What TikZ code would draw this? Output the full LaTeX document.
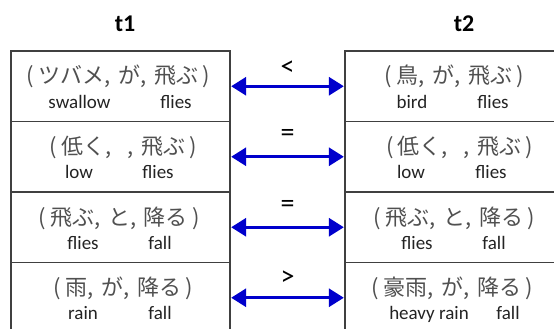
\documentclass[tikz,border=0pt]{standalone}
\usepackage{fontspec}
\setmainfont{Carlito}
\newfontfamily\jpfont{Noto Sans CJK JP}
\usetikzlibrary{arrows.meta}
\definecolor{arrblue}{RGB}{0,0,204}
\definecolor{boxline}{RGB}{64,64,64}
\definecolor{jpgray}{RGB}{80,80,80}
\definecolor{engray}{RGB}{35,35,35}
\newcommand{\jsp}{\hspace{0.35em}}
\newcommand{\psp}{\hspace{0.2em}}
\tikzset{
  cell/.style={draw=boxline, line width=1.3pt, minimum width=219pt, minimum height=70.5pt, inner sep=0pt},
  jp/.style={font=\jpfont\fontsize{22}{24}\selectfont, text=jpgray, anchor=base, inner sep=0pt},
  en/.style={font=\fontsize{19}{21}\selectfont, text=engray, anchor=base, inner sep=0pt},
  ttl/.style={font=\bfseries\fontsize{24}{26}\selectfont, text=black, anchor=base, inner sep=0pt},
  rel/.style={font=\fontsize{28}{30}\selectfont, text=black, inner sep=0pt},
  link/.style={draw=arrblue, line width=3pt, {Triangle[length=15pt,width=18pt]}-{Triangle[length=15pt,width=18pt]}, shorten <=0.5pt, shorten >=0.5pt}
}
\begin{document}
\begin{tikzpicture}[x=1pt,y=-1pt]
\useasboundingbox (0,0) rectangle (554,329);
\clip (0,0) rectangle (554,329);
\fill[white] (0,0) rectangle (554,329);
% titles
\node[ttl] (t1) at (125,32) {t1};
\node[ttl] (t2) at (464,32) {t2};
% cells
\node[cell] (L1) at (120.5,86.25) {};
\node[cell] (L2) at (120.5,156.75) {};
\node[cell] (L3) at (120.5,227.25) {};
\node[cell] (L4) at (120.5,297.75) {};
\node[cell] (R1) at (454.5,86.25) {};
\node[cell] (R2) at (454.5,156.75) {};
\node[cell] (R3) at (454.5,227.25) {};
\node[cell] (R4) at (454.5,297.75) {};
% left texts
\node[jp] (L1j) at (118.5,84) {(\psp ツバメ,\jsp が,\jsp 飛ぶ\psp )};
\node[en] (L1a) at (79.5,108) {swallow};
\node[en] (L1b) at (176,108) {flies};
\node[jp] (L2j) at (123.5,154.5) {(\psp 低く,\jsp\jsp ,\jsp 飛ぶ\psp )};
\node[en] (L2a) at (79,178.5) {low};
\node[en] (L2b) at (158,178.5) {flies};
\node[jp] (L3j) at (119,225) {(\psp 飛ぶ,\jsp と,\jsp 降る\psp )};
\node[en] (L3a) at (83,249) {flies};
\node[en] (L3b) at (160,249) {fall};
\node[jp] (L4j) at (123.5,295.5) {(\psp 雨,\jsp が,\jsp 降る\psp )};
\node[en] (L4a) at (83,319.5) {rain};
\node[en] (L4b) at (160,319.5) {fall};
% right texts
\node[jp] (R1j) at (454.5,84) {(\psp 鳥,\jsp が,\jsp 飛ぶ\psp )};
\node[en] (R1a) at (412,108) {bird};
\node[en] (R1b) at (493,108) {flies};
\node[jp] (R2j) at (459.5,154.5) {(\psp 低く,\jsp\jsp ,\jsp 飛ぶ\psp )};
\node[en] (R2a) at (411,178.5) {low};
\node[en] (R2b) at (491,178.5) {flies};
\node[jp] (R3j) at (454.5,225) {(\psp 飛ぶ,\jsp と,\jsp 降る\psp )};
\node[en] (R3a) at (417,249) {flies};
\node[en] (R3b) at (494,249) {fall};
\node[jp] (R4j) at (452.5,295.5) {(\psp 豪雨,\jsp が,\jsp 降る\psp )};
\node[en] (R4a) at (429,319.5) {heavy rain};
\node[en] (R4b) at (508,319.5) {fall};
% connectors
\draw[link] (L1.east) -- (R1.west) node[rel, midway, yshift=18pt] (c1) {<};
\draw[link] (L2.east) -- (R2.west) node[rel, midway, yshift=21pt] (c2) {=};
\draw[link] (L3.east) -- (R3.west) node[rel, midway, yshift=21pt] (c3) {=};
\draw[link] (L4.east) -- (R4.west) node[rel, midway, yshift=20pt] (c4) {>};
\end{tikzpicture}
\end{document}
